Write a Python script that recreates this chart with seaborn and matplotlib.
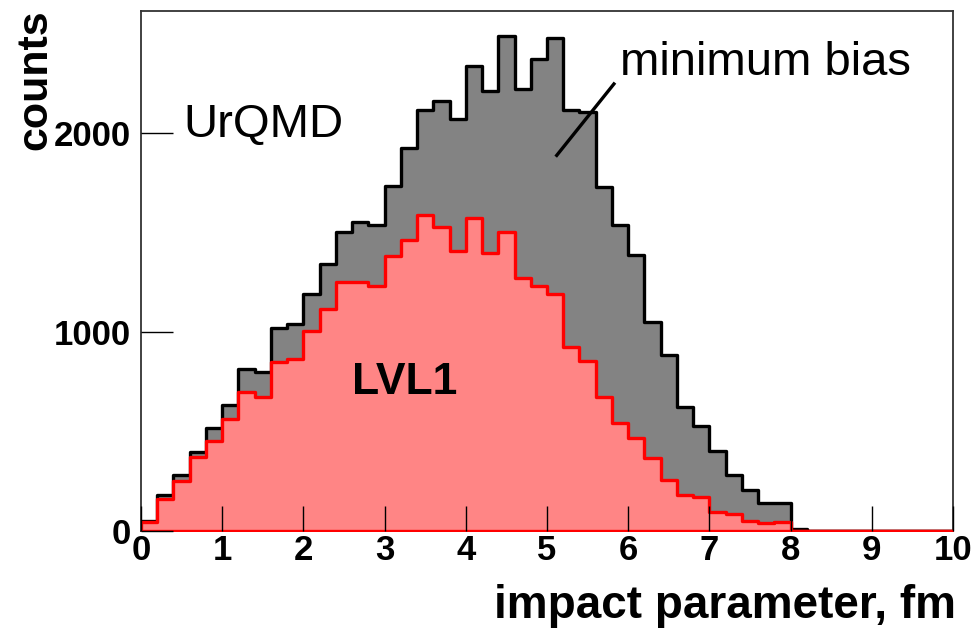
import numpy as np
import pandas as pd
import seaborn as sns
import matplotlib
matplotlib.use("Agg")
import matplotlib.pyplot as plt

# ---- data ----
bin_edges = [round(0.2 * i, 1) for i in range(51)]
min_bias = [50, 179, 280, 398, 518, 634, 816, 798, 1021, 1041,
            1191, 1343, 1504, 1554, 1539, 1736, 1927, 2116, 2161, 2071,
            2336, 2209, 2486, 2223, 2370, 2477, 2116, 2107, 1727, 1536,
            1389, 1052, 885, 625, 530, 402, 280, 205, 143, 143,
            12, 0, 0, 0, 0, 0, 0, 0, 0, 0]
lvl1 = [45, 161, 250, 370, 452, 562, 696, 675, 848, 862,
        1004, 1116, 1250, 1250, 1232, 1381, 1462, 1588, 1527, 1405,
        1571, 1398, 1500, 1273, 1232, 1193, 925, 854, 675, 545,
        468, 365, 257, 179, 170, 95, 84, 50, 41, 45,
        0, 0, 0, 0, 0, 0, 0, 0, 0, 0]
x_ticks = [0, 1, 2, 3, 4, 5, 6, 7, 8, 9, 10]
y_ticks = [0, 1000, 2000]

centers = [(bin_edges[i] + bin_edges[i + 1]) / 2 for i in range(len(bin_edges) - 1)]
df = pd.DataFrame({"b": centers, "mb": min_bias, "lvl1": lvl1})

sns.set_theme(style="ticks")
plt.rcParams["font.family"] = ["Liberation Sans", "DejaVu Sans"]

fig = plt.figure(figsize=(9.74, 6.32), dpi=100)
ax = fig.add_axes([141 / 974, 1 - 531 / 632, (953 - 141) / 974, (531 - 11) / 632])

sns.histplot(data=df, x="b", weights="mb", bins=bin_edges, element="step",
             fill=True, color="#838383", edgecolor="black", linewidth=2.4,
             alpha=1, ax=ax)
sns.histplot(data=df, x="b", weights="lvl1", bins=bin_edges, element="step",
             fill=True, color="#ff8585", edgecolor="#ff0000", linewidth=2.4,
             alpha=1, ax=ax)

ax.set_xlim(0, 10)
ax.set_ylim(0, 2613)
ax.set_xticks(x_ticks)
ax.set_yticks(y_ticks)
ax.set_xticklabels([str(t) for t in x_ticks], fontsize=25, fontweight="bold", color="black")
ax.set_yticklabels([str(t) for t in y_ticks], fontsize=25, fontweight="bold", color="black")
ax.tick_params(axis="x", direction="in", length=18, width=1, color="black", pad=2)
ax.tick_params(axis="y", direction="in", length=23, width=1, color="black", pad=7)
ax.minorticks_off()
ax.set_axisbelow(False)
ax.set_xlabel("")
ax.set_ylabel("")
for s in ax.spines.values():
    s.set_visible(True)
    s.set_linewidth(1.3)
    s.set_color("#333333")
    s.set_zorder(0.9)

# annotations
ax.text(0.52, 1980, "UrQMD", fontsize=34, ha="left", va="baseline", color="black")
ax.text(5.90, 2291, "minimum bias", fontsize=34, ha="left", va="baseline", color="black")
ax.text(2.60, 688, "LVL1", fontsize=32, fontweight="bold", ha="left", va="baseline", color="black")
ax.plot([5.107, 5.837], [1881, 2253], color="black", linewidth=2.4, solid_capstyle="butt")

fig.text(15 / 974, 1 - 9 / 632, "counts", rotation=90, ha="left", va="top",
         fontsize=31, fontweight="bold", color="black")
fig.text(956 / 974, 1 - 618 / 632, "impact parameter, fm", ha="right", va="baseline",
         fontsize=33, fontweight="bold", color="black")

fig.savefig("out.png", dpi=100)
